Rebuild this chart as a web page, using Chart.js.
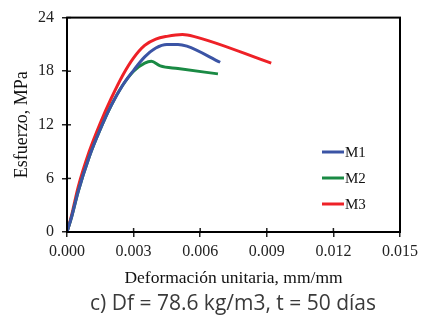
<!DOCTYPE html>
<html>
<head>
<meta charset="utf-8">
<script src="https://cdn.jsdelivr.net/npm/chart.js@4/dist/chart.umd.min.js"></script>
<style>
  html, body { margin: 0; padding: 0; background: #fff; }
  #wrap { width: 428px; height: 318px; position: relative; }
</style>
</head>
<body>
<div id="wrap"><canvas id="c" width="428" height="318"></canvas></div>
<script>
const seriesNames = ["M1", "M2", "M3"];
const seriesColors = ["#3b54a5", "#1a8a44", "#ee2127"];
const m1Strain = [0, 0.0002, 0.0005, 0.001, 0.0015, 0.002, 0.0025, 0.003, 0.0035, 0.004, 0.0045, 0.005, 0.0054, 0.0069];
const m1Stress = [0, 1.6, 4.5, 8.4, 11.5, 14.2, 16.4, 18.1, 19.6, 20.6, 21.0, 21.0, 20.8, 19.0];
const m2Strain = [0, 0.0002, 0.0005, 0.001, 0.0015, 0.002, 0.0025, 0.003, 0.0035, 0.0038, 0.0042, 0.005, 0.0068];
const m2Stress = [0, 1.6, 4.5, 8.4, 11.5, 14.2, 16.4, 18.0, 18.9, 19.1, 18.6, 18.3, 17.7];
const m3Strain = [0, 0.0002, 0.0005, 0.001, 0.0015, 0.002, 0.0025, 0.003, 0.0035, 0.004, 0.0045, 0.0052, 0.0057, 0.0092];
const m3Stress = [0, 1.8, 5.0, 9.0, 12.2, 15.0, 17.5, 19.5, 20.9, 21.6, 21.9, 22.1, 21.9, 18.9];
const xTicks = [0, 0.003, 0.006, 0.009, 0.012, 0.015];
const yTicks = [0, 6, 12, 18, 24];
const xTitle = "Deformación unitaria, mm/mm";
const yTitle = "Esfuerzo, MPa";
const caption = "c) Df = 78.6 kg/m3, t = 50 días";

const toPts = (xs, ys) => xs.map((x, i) => ({ x: x, y: ys[i] }));
const allData = [toPts(m1Strain, m1Stress), toPts(m2Strain, m2Stress), toPts(m3Strain, m3Stress)];

const serif = "'Liberation Serif', 'Times New Roman', serif";

const framePlugin = {
  id: 'frame',
  afterDraw(chart) {
    const ctx = chart.ctx;
    const a = chart.chartArea;
    const xs = chart.scales.x, ys = chart.scales.y;
    ctx.save();
    ctx.strokeStyle = '#222';
    ctx.lineWidth = 1.5;
    xTicks.forEach(v => {
      const px = xs.getPixelForValue(v);
      ctx.beginPath(); ctx.moveTo(px, a.bottom); ctx.lineTo(px, a.bottom - 4); ctx.stroke();
    });
    yTicks.forEach(v => {
      const py = ys.getPixelForValue(v);
      ctx.beginPath(); ctx.moveTo(a.left, py); ctx.lineTo(a.left + 4, py); ctx.stroke();
    });
    ctx.strokeStyle = '#000';
    ctx.lineWidth = 2;
    ctx.strokeRect(a.left, a.top, a.right - a.left, a.bottom - a.top);
    ctx.font = "15px " + serif;
    ctx.textBaseline = 'middle';
    ctx.textAlign = 'left';
    const lx = 322, ly0 = 152, dy = 26;
    chart.data.datasets.forEach((ds, i) => {
      const y = ly0 + i * dy;
      ctx.strokeStyle = ds.borderColor;
      ctx.lineWidth = 3;
      ctx.beginPath(); ctx.moveTo(lx, y); ctx.lineTo(lx + 22, y); ctx.stroke();
      ctx.fillStyle = '#111';
      ctx.fillText(ds.label, lx + 23, y + 1);
    });
    ctx.font = "21px 'Open Sans', 'Noto Sans', sans-serif";
    ctx.fillStyle = '#3a3a3a';
    ctx.textAlign = 'center';
    ctx.fillText(caption, 233, 304);
    ctx.restore();
  }
};

new Chart(document.getElementById('c'), {
  type: 'line',
  data: {
    datasets: allData.map((d, i) => ({
      label: seriesNames[i],
      data: d,
      borderColor: seriesColors[i],
      backgroundColor: seriesColors[i],
      borderWidth: 3,
      pointRadius: 0,
      fill: false,
      cubicInterpolationMode: 'monotone'
    }))
  },
  options: {
    responsive: false,
    animation: false,
    layout: { padding: { left: 0, right: 28, top: 17, bottom: 0 } },
    plugins: { legend: { display: false }, tooltip: { enabled: false } },
    scales: {
      x: {
        type: 'linear', min: 0, max: 0.015,
        afterBuildTicks: s => { s.ticks = xTicks.map(v => ({ value: v })); },
        afterFit: s => { s.height = 86; },
        ticks: { color: '#222', font: { family: serif, size: 16 }, padding: 5, maxRotation: 0,
                 callback: v => v.toFixed(3) },
        grid: { drawOnChartArea: false, tickLength: 5, color: '#222', lineWidth: 1.5 },
        border: { display: true, color: '#000', width: 2 },
        title: { display: true, text: xTitle, color: '#111', font: { family: serif, size: 17.5 }, padding: { top: 0, bottom: 29 } }
      },
      y: {
        type: 'linear', min: 0, max: 24,
        afterBuildTicks: s => { s.ticks = yTicks.map(v => ({ value: v })); },
        afterFit: s => { s.width = 67; },
        ticks: { color: '#222', font: { family: serif, size: 16 }, padding: 8 },
        grid: { drawOnChartArea: false, tickLength: 5, color: '#222', lineWidth: 1.5 },
        border: { display: true, color: '#000', width: 2 },
        title: { display: true, text: yTitle, color: '#111', font: { family: serif, size: 18 }, padding: { top: 11, bottom: 0 } }
      }
    }
  },
  plugins: [framePlugin]
});
</script>
</body>
</html>
